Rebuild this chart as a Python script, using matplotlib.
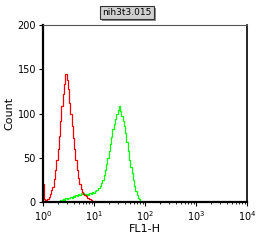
import numpy as np
import matplotlib
matplotlib.use("Agg")
import matplotlib.pyplot as plt
from matplotlib.patches import Rectangle
from matplotlib.ticker import LogLocator, NullFormatter, MultipleLocator, NullLocator

title = "nih3t3.015"
x_label = "FL1-H"
y_label = "Count"

# red histogram: bins in log10(FL1-H) starting at 0.0, step 0.025
red_start = 0.0
red_counts = [20, 3, 1, 2, 3, 6, 9, 13, 17, 26, 36, 48, 60, 75, 92, 108, 122, 133, 145, 138,
              128, 112, 100, 86, 72, 60, 47, 36, 27, 20, 15, 11, 9, 8, 7, 5, 4, 3, 2, 1, 1, 0]
# green histogram: bins start at 0.30, step 0.025
green_start = 0.30
green_counts = [0, 1, 2, 2, 3, 2, 4, 3, 5, 4, 6, 5, 7, 6, 8, 7, 9, 8, 10, 9, 10, 9, 8, 9, 8, 10,
                9, 11, 10, 12, 13, 14, 16, 18, 21, 25, 30, 36, 43, 50, 58, 66, 74, 82, 88, 94,
                100, 104, 108, 103, 97, 92, 86, 78, 68, 58, 48, 40, 33, 25, 18, 12, 8, 5, 3, 1, 0]
step = 0.025

fig = plt.figure(figsize=(2.57, 2.46), dpi=100)
ax = fig.add_axes([0.167, 0.179, 0.794, 0.719])

def xs(start, n):
    return 10 ** (start + step * np.arange(n))

ax.plot(xs(green_start, len(green_counts)), green_counts, color="#00ff00", lw=0.9, drawstyle="steps-mid")
ax.plot(xs(red_start, len(red_counts)), red_counts, color="#ee0000", lw=0.9, drawstyle="steps-mid")

ax.set_xscale("log")
ax.set_xlim(1, 1e4)
ax.set_ylim(0, 200)
ax.yaxis.set_major_locator(MultipleLocator(50))
ax.yaxis.set_minor_locator(NullLocator())
ax.xaxis.set_major_locator(LogLocator(base=10, numticks=10))
ax.xaxis.set_minor_locator(LogLocator(base=10, subs=np.arange(2, 10), numticks=20))
ax.xaxis.set_minor_formatter(NullFormatter())
ax.tick_params(axis="both", which="major", direction="out", length=3, width=0.8, labelsize=7, pad=2)
ax.tick_params(axis="both", which="minor", direction="out", length=1.5, width=0.6)
for side in ["left", "bottom"]:
    ax.spines[side].set_linewidth(1.6)
ax.spines["right"].set_linewidth(1.2)
ax.spines["top"].set_linewidth(0.8)
ax.spines["top"].set_color("#555555")

ax.set_xlabel(x_label, fontsize=8, labelpad=1)
ax.set_ylabel(y_label, fontsize=8, labelpad=2)

t = fig.text(0.494, 0.95, title, ha="center", va="center", fontsize=6.5, zorder=5,
             bbox=dict(boxstyle="square,pad=0.25", fc="#d0d0d0", ec="#333333", lw=0.8))
fig.canvas.draw()
bb = t.get_bbox_patch().get_window_extent().transformed(fig.transFigure.inverted())
fig.patches.append(Rectangle((bb.x0 + 2 / 257, bb.y0 - 2 / 246), bb.width, bb.height,
                             transform=fig.transFigure, fc="#8a8a8a", ec="none", zorder=1))

fig.savefig("out.png", dpi=100)
